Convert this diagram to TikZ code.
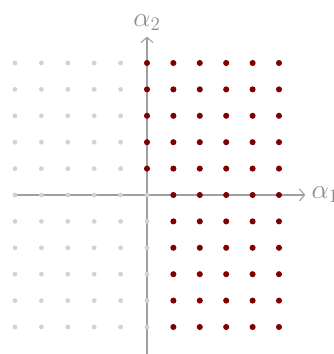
\documentclass[tikz,border=0pt]{standalone}
\usetikzlibrary{arrows.meta}
\definecolor{dotred}{HTML}{800000}
\tikzset{
  %% axes and labels
  axis/.style={draw=gray!75, line width=0.8pt,
               -{Straight Barb[length=4pt,width=9pt]}},
  axlabel/.style={text=gray!90, font=\huge, inner sep=4.5pt},
  %% lattice points
  posdot/.style={circle, fill=dotred, inner sep=0pt, minimum size=4.6pt},
  negdot/.style={circle, fill=gray!35, inner sep=0pt, minimum size=3.6pt},
}
\begin{document}
\begin{tikzpicture}[x=0.7cm, y=0.7cm]
  \useasboundingbox (-5.568,-6.023) rectangle (7.083,7.386);

  \coordinate (xmin) at (-5,0);
  \coordinate (xmax) at (6,0);
  \coordinate (ymin) at (0,-6.1);
  \coordinate (ymax) at (0,6);

  %% Axes
  \draw[axis] (xmin) -- (xmax);
  \draw[axis] (ymin) -- (ymax);
  \node[axlabel, right] (a1) at (xmax) {$\alpha_1$};
  \node[axlabel, above] (a2) at (ymax) {$\alpha_2$};

  %% Lattice
  \foreach \i in {-5,...,5}
    \foreach \j in {-5,...,5} {
      \pgfmathtruncatemacro\pos{(\i>0)||((\i==0)&&(\j>0))}
      \ifnum\pos=1
        \node[posdot] (p-\i-\j) at (\i,\j) {};
      \else
        \node[negdot] (p-\i-\j) at (\i,\j) {};
      \fi
    }

\end{tikzpicture}
\end{document}
